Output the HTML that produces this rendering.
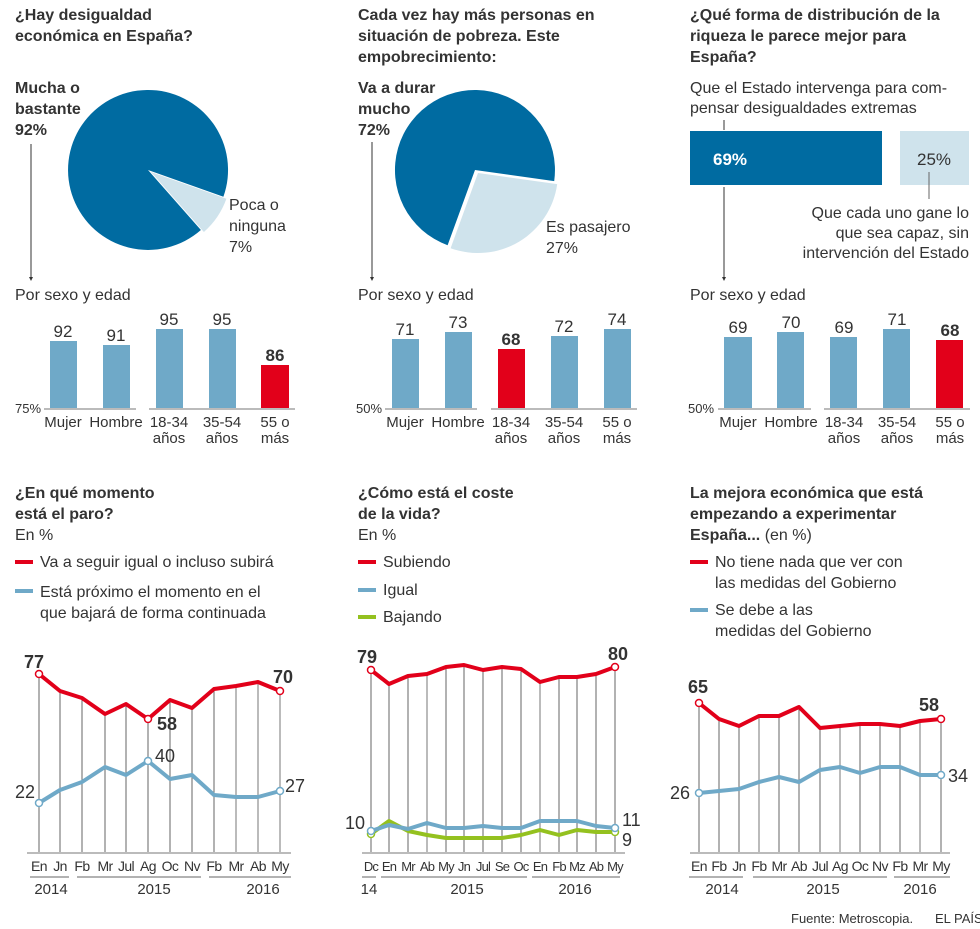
<!DOCTYPE html>
<html><head><meta charset="utf-8"><style>
body{margin:0;background:#fff}
svg{display:block;font-family:"Liberation Sans",sans-serif;fill:#333}
.b{font-weight:bold}
.t{font-size:16px;font-weight:bold}
.n{font-size:16px}
.s{font-size:13px}
.bl{font-size:15px}
.bm{font-size:14px;letter-spacing:-0.6px}
.g{stroke:#666;stroke-width:1}
.g2{stroke:#bbb;stroke-width:2}
.ax{stroke:#bbb;stroke-width:2}
</style></head><body>
<svg width="980" height="929" viewBox="0 0 980 929">
<!-- Panel 1 -->
<text class="t" x="15" y="20">¿Hay desigualdad</text>
<text class="t" x="15" y="41">económica en España?</text>
<text class="t" x="15" y="93">Mucha o</text>
<text class="t" x="15" y="114">bastante</text>
<text class="t" x="15" y="135">92%</text>
<path d="M148,170 L200.9,230 A80,80 0 1 1 223.4,196.8 Z" fill="#006ba1"/>
<path d="M151,172 L226.4,198.8 A80,80 0 0 1 203.9,232 Z" fill="#cfe3ec"/>
<text class="n" x="229" y="210">Poca o</text>
<text class="n" x="229" y="231">ninguna</text>
<text class="n" x="229" y="252">7%</text>
<line x1="31" y1="144" x2="31" y2="279" stroke="#333"/>
<path d="M29,277 L33,277 L31,281Z" fill="#333"/>
<text class="n" x="15" y="300">Por sexo y edad</text>
<line class="ax" x1="44" y1="409" x2="136" y2="409"/><line class="ax" x1="149" y1="409" x2="295" y2="409"/>
<rect x="50" y="341" width="27" height="67" fill="#6fa9c8"/>
<rect x="103" y="345" width="27" height="63" fill="#6fa9c8"/>
<rect x="156" y="329" width="27" height="79" fill="#6fa9c8"/>
<rect x="209" y="329" width="27" height="79" fill="#6fa9c8"/>
<rect x="261" y="365" width="28" height="43" fill="#e2001a"/>
<g class="n" text-anchor="middle" style="font-size:17px">
<text x="63" y="337">92</text><text x="116" y="341">91</text><text x="169" y="325">95</text><text x="222" y="325">95</text><text x="275" y="361" class="b">86</text></g>
<text class="s" x="15" y="413">75%</text>
<g class="bl" text-anchor="middle"><text x="63" y="427">Mujer</text><text x="116" y="427">Hombre</text><text x="169" y="427">18-34</text><text x="169" y="443">años</text><text x="222" y="427">35-54</text><text x="222" y="443">años</text><text x="275" y="427">55 o</text><text x="275" y="443">más</text></g>

<!-- Panel 2 -->
<text class="t" x="358" y="20">Cada vez hay más personas en</text>
<text class="t" x="358" y="41">situación de pobreza. Este</text>
<text class="t" x="358" y="62">empobrecimiento:</text>
<text class="t" x="358" y="93">Va a durar</text>
<text class="t" x="358" y="114">mucho</text>
<text class="t" x="358" y="135">72%</text>
<path d="M475,170 L447.6,245.2 A80,80 0 1 1 554.2,181.1 Z" fill="#006ba1"/>
<path d="M478,173 L557.2,184.1 A80,80 0 0 1 450.6,248.2 Z" fill="#cfe3ec"/>
<text class="n" x="546" y="232">Es pasajero</text>
<text class="n" x="546" y="253">27%</text>
<line x1="372" y1="142" x2="372" y2="279" stroke="#333"/>
<path d="M370,277 L374,277 L372,281Z" fill="#333"/>
<text class="n" x="358" y="300">Por sexo y edad</text>
<line class="ax" x1="385" y1="409" x2="477" y2="409"/><line class="ax" x1="491" y1="409" x2="637" y2="409"/>
<rect x="392" y="339" width="27" height="69" fill="#6fa9c8"/>
<rect x="445" y="332" width="27" height="76" fill="#6fa9c8"/>
<rect x="498" y="349" width="27" height="59" fill="#e2001a"/>
<rect x="551" y="336" width="27" height="72" fill="#6fa9c8"/>
<rect x="604" y="329" width="27" height="79" fill="#6fa9c8"/>
<g class="n" text-anchor="middle" style="font-size:17px">
<text x="405" y="335">71</text><text x="458" y="328">73</text><text x="511" y="345" class="b">68</text><text x="564" y="332">72</text><text x="617" y="325">74</text></g>
<text class="s" x="356" y="413">50%</text>
<g class="bl" text-anchor="middle"><text x="405" y="427">Mujer</text><text x="458" y="427">Hombre</text><text x="511" y="427">18-34</text><text x="511" y="443">años</text><text x="564" y="427">35-54</text><text x="564" y="443">años</text><text x="617" y="427">55 o</text><text x="617" y="443">más</text></g>

<!-- Panel 3 -->
<text class="t" x="690" y="20">¿Qué forma de distribución de la</text>
<text class="t" x="690" y="41">riqueza le parece mejor para</text>
<text class="t" x="690" y="62">España?</text>
<text class="n" x="690" y="93">Que el Estado intervenga para com-</text>
<text class="n" x="690" y="113">pensar desigualdades extremas</text>
<line x1="724" y1="120" x2="724" y2="130" stroke="#333"/>
<rect x="690" y="131" width="192" height="54" fill="#006ba1"/>
<rect x="900" y="131" width="69" height="54" fill="#cfe3ec"/>
<text x="713" y="165" class="b" style="font-size:17px;fill:#fff">69%</text>
<text x="917" y="165" class="n" style="font-size:17px">25%</text>
<line x1="929" y1="172" x2="929" y2="199" stroke="#666"/>
<g class="n" text-anchor="end"><text x="969" y="218">Que cada uno gane lo</text><text x="969" y="238">que sea capaz, sin</text><text x="969" y="258">intervención del Estado</text></g>
<line x1="724" y1="187" x2="724" y2="279" stroke="#333"/>
<path d="M722,277 L726,277 L724,281Z" fill="#333"/>
<text class="n" x="690" y="300">Por sexo y edad</text>
<line class="ax" x1="718" y1="409" x2="811" y2="409"/><line class="ax" x1="824" y1="409" x2="970" y2="409"/>
<rect x="724" y="337" width="28" height="71" fill="#6fa9c8"/>
<rect x="777" y="332" width="27" height="76" fill="#6fa9c8"/>
<rect x="830" y="337" width="27" height="71" fill="#6fa9c8"/>
<rect x="883" y="329" width="27" height="79" fill="#6fa9c8"/>
<rect x="936" y="340" width="27" height="68" fill="#e2001a"/>
<g class="n" text-anchor="middle" style="font-size:17px">
<text x="738" y="333">69</text><text x="791" y="328">70</text><text x="844" y="333">69</text><text x="897" y="325">71</text><text x="950" y="336" class="b">68</text></g>
<text class="s" x="688" y="413">50%</text>
<g class="bl" text-anchor="middle"><text x="738" y="427">Mujer</text><text x="791" y="427">Hombre</text><text x="844" y="427">18-34</text><text x="844" y="443">años</text><text x="897" y="427">35-54</text><text x="897" y="443">años</text><text x="950" y="427">55 o</text><text x="950" y="443">más</text></g>

<!-- Bottom panel 1 -->
<text class="t" x="15" y="498">¿En qué momento</text>
<text class="t" x="15" y="519">está el paro?</text>
<text class="n" x="15" y="540">En %</text>
<line x1="15" y1="562" x2="33" y2="562" stroke="#e2001a" stroke-width="4"/>
<text class="n" x="40" y="567">Va a seguir igual o incluso subirá</text>
<line x1="15" y1="591" x2="33" y2="591" stroke="#6fa9c8" stroke-width="4"/>
<text class="n" x="40" y="597">Está próximo el momento en el</text>
<text class="n" x="40" y="618">que bajará de forma continuada</text>
<g class="g">
<line x1="39" y1="674" x2="39" y2="853"/><line x1="60" y1="691" x2="60" y2="853"/><line x1="82" y1="698" x2="82" y2="853"/><line x1="105" y1="714" x2="105" y2="853"/><line x1="126" y1="704" x2="126" y2="853"/><line x1="148" y1="719" x2="148" y2="853"/><line x1="170" y1="700" x2="170" y2="853"/><line x1="192" y1="708" x2="192" y2="853"/><line x1="214" y1="689" x2="214" y2="853"/></g>
<g class="g2"><line x1="236" y1="686" x2="236" y2="853"/><line x1="258" y1="682" x2="258" y2="853"/><line x1="280" y1="691" x2="280" y2="853"/></g>
<line class="ax" x1="27" y1="853" x2="291" y2="853"/>
<polyline fill="none" stroke="#6fa9c8" stroke-width="4" stroke-linejoin="round" points="39,803 60,790 82,782 105,767 126,775 148,761 170,779 192,775 214,795 236,797 258,797 280,791"/>
<polyline fill="none" stroke="#e2001a" stroke-width="4" stroke-linejoin="round" points="39,674 60,691 82,698 105,714 126,704 148,719 170,700 192,708 214,689 236,686 258,682 280,691"/>
<g fill="#fff" stroke-width="1.5"><circle cx="39" cy="674" r="3.5" stroke="#e2001a"/><circle cx="148" cy="719" r="3.5" stroke="#e2001a"/><circle cx="280" cy="691" r="3.5" stroke="#e2001a"/><circle cx="39" cy="803" r="3.5" stroke="#6fa9c8"/><circle cx="148" cy="761" r="3.5" stroke="#6fa9c8"/><circle cx="280" cy="791" r="3.5" stroke="#6fa9c8"/></g>
<g style="font-size:18px"><text x="24" y="668" class="b">77</text><text x="157" y="730" class="b">58</text><text x="273" y="683" class="b">70</text><text x="15" y="798">22</text><text x="155" y="762">40</text><text x="285" y="792">27</text></g>
<g class="bm" text-anchor="middle"><text x="39" y="871">En</text><text x="60" y="871">Jn</text><text x="82" y="871">Fb</text><text x="105" y="871">Mr</text><text x="126" y="871">Jul</text><text x="148" y="871">Ag</text><text x="170" y="871">Oc</text><text x="192" y="871">Nv</text><text x="214" y="871">Fb</text><text x="236" y="871">Mr</text><text x="258" y="871">Ab</text><text x="280" y="871">My</text></g>
<g class="bl" text-anchor="middle"><text x="51" y="894">2014</text><text x="154" y="894">2015</text><text x="263" y="894">2016</text></g>
<g stroke="#666"><line x1="30" y1="877" x2="69" y2="877"/><line x1="77" y1="877" x2="201" y2="877"/><line x1="209" y1="877" x2="291" y2="877"/></g>

<!-- Bottom panel 2 -->
<text class="t" x="358" y="498">¿Cómo está el coste</text>
<text class="t" x="358" y="519">de la vida?</text>
<text class="n" x="358" y="540">En %</text>
<line x1="358" y1="562" x2="376" y2="562" stroke="#e2001a" stroke-width="4"/><text class="n" x="383" y="567">Subiendo</text>
<line x1="358" y1="590" x2="376" y2="590" stroke="#6fa9c8" stroke-width="4"/><text class="n" x="383" y="595">Igual</text>
<line x1="358" y1="617" x2="376" y2="617" stroke="#94c11f" stroke-width="4"/><text class="n" x="383" y="622">Bajando</text>
<g class="g"><line x1="371" y1="670" x2="371" y2="853"/><line x1="389" y1="684" x2="389" y2="853"/><line x1="408" y1="676" x2="408" y2="853"/><line x1="446" y1="667" x2="446" y2="853"/><line x1="464" y1="665" x2="464" y2="853"/><line x1="483" y1="670" x2="483" y2="853"/><line x1="502" y1="667" x2="502" y2="853"/><line x1="521" y1="669" x2="521" y2="853"/><line x1="559" y1="677" x2="559" y2="853"/><line x1="577" y1="677" x2="577" y2="853"/><line x1="596" y1="674" x2="596" y2="853"/><line x1="615" y1="667" x2="615" y2="853"/></g>
<g class="g2"><line x1="427" y1="674" x2="427" y2="853"/><line x1="540" y1="682" x2="540" y2="853"/></g>
<line class="ax" x1="362" y1="853" x2="625" y2="853"/>
<polyline fill="none" stroke="#94c11f" stroke-width="4" stroke-linejoin="round" points="371,834 389,821 408,831 427,835 446,838 464,838 483,838 502,838 521,835 540,830 559,835 577,830 596,832 615,832"/>
<polyline fill="none" stroke="#6fa9c8" stroke-width="4" stroke-linejoin="round" points="371,831 389,825 408,829 427,823 446,828 464,828 483,826 502,828 521,828 540,821 559,821 577,821 596,826 615,828"/>
<polyline fill="none" stroke="#e2001a" stroke-width="4" stroke-linejoin="round" points="371,670 389,684 408,676 427,674 446,667 464,665 483,670 502,667 521,669 540,682 559,677 577,677 596,674 615,667"/>
<g fill="#fff" stroke-width="1.5"><circle cx="371" cy="670" r="3.5" stroke="#e2001a"/><circle cx="615" cy="667" r="3.5" stroke="#e2001a"/><circle cx="371" cy="834" r="3.5" stroke="#94c11f"/><circle cx="615" cy="832" r="3.5" stroke="#94c11f"/><circle cx="371" cy="831" r="3.5" stroke="#6fa9c8"/><circle cx="615" cy="828" r="3.5" stroke="#6fa9c8"/></g>
<g style="font-size:18px"><text x="357" y="663" class="b">79</text><text x="608" y="660" class="b">80</text><text x="345" y="829">10</text><text x="622" y="826">11</text><text x="622" y="846">9</text></g>
<g class="bm" text-anchor="middle" style="font-size:13px;letter-spacing:-0.8px"><text x="371" y="871">Dc</text><text x="389" y="871">En</text><text x="408" y="871">Mr</text><text x="427" y="871">Ab</text><text x="446" y="871">My</text><text x="464" y="871">Jn</text><text x="483" y="871">Jul</text><text x="502" y="871">Se</text><text x="521" y="871">Oc</text><text x="540" y="871">En</text><text x="559" y="871">Fb</text><text x="577" y="871">Mz</text><text x="596" y="871">Ab</text><text x="615" y="871">My</text></g>
<g class="bl" text-anchor="middle"><text x="369" y="894">14</text><text x="467" y="894">2015</text><text x="575" y="894">2016</text></g>
<g stroke="#666"><line x1="362" y1="877" x2="376" y2="877"/><line x1="381" y1="877" x2="527" y2="877"/><line x1="532" y1="877" x2="620" y2="877"/></g>

<!-- Bottom panel 3 -->
<text class="t" x="690" y="498">La mejora económica que está</text>
<text class="t" x="690" y="519">empezando a experimentar</text>
<text x="690" y="540" style="font-size:16px"><tspan class="b">España...</tspan> (en %)</text>
<line x1="690" y1="562" x2="708" y2="562" stroke="#e2001a" stroke-width="4"/>
<text class="n" x="715" y="567">No tiene nada que ver con</text><text class="n" x="715" y="588">las medidas del Gobierno</text>
<line x1="690" y1="610" x2="708" y2="610" stroke="#6fa9c8" stroke-width="4"/>
<text class="n" x="715" y="615">Se debe a las</text><text class="n" x="715" y="636">medidas del Gobierno</text>
<g class="g"><line x1="699" y1="703" x2="699" y2="853"/><line x1="719" y1="719" x2="719" y2="853"/><line x1="739" y1="726" x2="739" y2="853"/><line x1="779" y1="716" x2="779" y2="853"/><line x1="799" y1="707" x2="799" y2="853"/><line x1="820" y1="728" x2="820" y2="853"/><line x1="860" y1="724" x2="860" y2="853"/><line x1="880" y1="724" x2="880" y2="853"/><line x1="900" y1="726" x2="900" y2="853"/><line x1="941" y1="719" x2="941" y2="853"/></g>
<g class="g2"><line x1="759" y1="716" x2="759" y2="853"/><line x1="840" y1="726" x2="840" y2="853"/><line x1="920" y1="721" x2="920" y2="853"/></g>
<line class="ax" x1="690" y1="853" x2="950" y2="853"/>
<polyline fill="none" stroke="#6fa9c8" stroke-width="4" stroke-linejoin="round" points="699,793 719,791 739,789 759,782 779,777 799,782 820,770 840,767 860,773 880,767 900,767 920,775 941,775"/>
<polyline fill="none" stroke="#e2001a" stroke-width="4" stroke-linejoin="round" points="699,703 719,719 739,726 759,716 779,716 799,707 820,728 840,726 860,724 880,724 900,726 920,721 941,719"/>
<g fill="#fff" stroke-width="1.5"><circle cx="699" cy="703" r="3.5" stroke="#e2001a"/><circle cx="941" cy="719" r="3.5" stroke="#e2001a"/><circle cx="699" cy="793" r="3.5" stroke="#6fa9c8"/><circle cx="941" cy="775" r="3.5" stroke="#6fa9c8"/></g>
<g style="font-size:18px"><text x="688" y="693" class="b">65</text><text x="919" y="711" class="b">58</text><text x="670" y="799">26</text><text x="948" y="782">34</text></g>
<g class="bm" text-anchor="middle"><text x="699" y="871">En</text><text x="719" y="871">Fb</text><text x="739" y="871">Jn</text><text x="759" y="871">Fb</text><text x="779" y="871">Mr</text><text x="799" y="871">Ab</text><text x="820" y="871">Jul</text><text x="840" y="871">Ag</text><text x="860" y="871">Oc</text><text x="880" y="871">Nv</text><text x="900" y="871">Fb</text><text x="920" y="871">Mr</text><text x="941" y="871">My</text></g>
<g class="bl" text-anchor="middle"><text x="722" y="894">2014</text><text x="823" y="894">2015</text><text x="920" y="894">2016</text></g>
<g stroke="#666"><line x1="689" y1="877" x2="743" y2="877"/><line x1="753" y1="877" x2="887" y2="877"/><line x1="894" y1="877" x2="950" y2="877"/></g>
<text x="791" y="923" style="font-size:13px">Fuente: Metroscopia.</text>
<text x="935" y="923" style="font-size:13px">EL PAÍS</text>
</svg>
</body></html>
